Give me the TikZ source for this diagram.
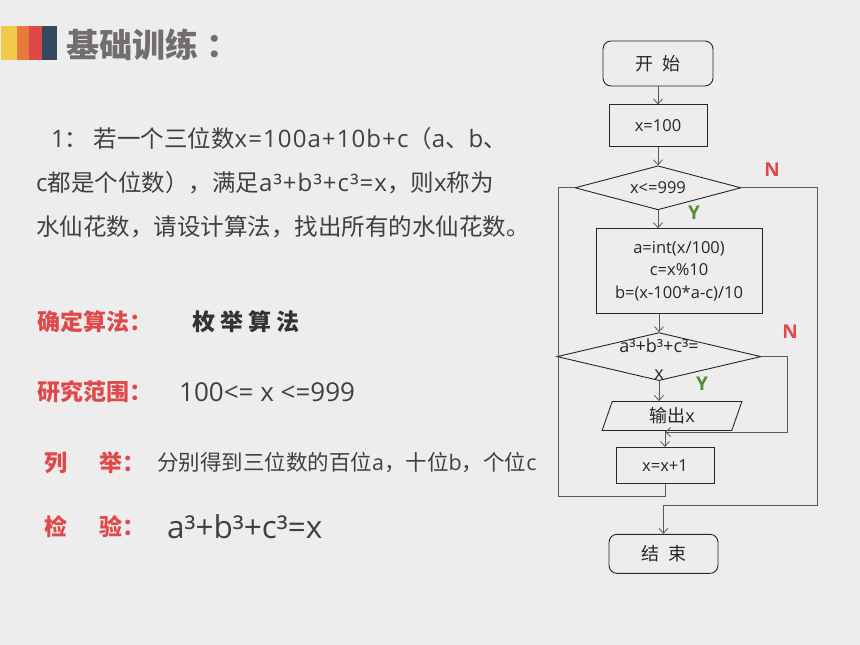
\documentclass[tikz,border=0pt]{standalone}
\usepackage{fontspec}
\setmainfont{Noto Sans CJK SC}
\newfontfamily\latinfont{Open Sans}
\newfontfamily\latinwide{Open Sans}[LetterSpace=4.5]
\usepackage{xcolor}
\usepackage{tikz}
\usetikzlibrary{shapes.geometric, arrows.meta, positioning, calc}

\definecolor{bgray}{RGB}{237,237,237}
\definecolor{titlegray}{RGB}{115,110,110}
\definecolor{txtgray}{RGB}{64,64,64}
\definecolor{hired}{RGB}{224,72,74}
\definecolor{higreen}{RGB}{84,140,50}
\definecolor{baryellow}{RGB}{242,201,76}
\definecolor{barorange}{RGB}{230,122,58}
\definecolor{barred}{RGB}{224,72,72}
\definecolor{barnavy}{RGB}{52,73,94}

\newcommand{\pxfont}[2]{\fontsize{#1pt}{#2pt}\selectfont}
\newcommand{\latn}[1]{{\latinwide\fontsize{24pt}{44pt}\selectfont#1}}

\begin{document}
\begin{tikzpicture}[
    x=1pt, y=-1pt,
    node distance=18pt,
    term/.style={rectangle, rounded corners=8pt, draw=black!85, line width=0.9pt, inner sep=0pt, text=black!85, font=\pxfont{18}{22}},
    proc/.style={rectangle, draw=black!85, line width=0.9pt, inner sep=0pt, align=center, text=black!85, font=\latinfont\pxfont{16.5}{22.5}},
    decision/.style={diamond, aspect=3.8, draw=black!85, line width=0.9pt, inner sep=0pt, text=black!85, font=\latinfont\pxfont{16.5}{20}},
    io/.style={trapezium, trapezium left angle=77, trapezium right angle=103, trapezium stretches=true, draw=black!85, line width=0.9pt, inner sep=0pt, minimum width=140pt, minimum height=29pt, text=black!85, font=\pxfont{18}{22}},
    arrow/.style={-{Straight Barb[length=5pt,width=9pt]}, draw=black!65, line width=0.8pt},
    flowline/.style={draw=black!65, line width=0.8pt},
    yn/.style={font=\latinfont\pxfont{19}{22}\bfseries},
    keyword/.style={anchor=west, inner sep=0pt, text=hired, font=\pxfont{23}{28}\bfseries},
    body/.style={anchor=west, inner sep=0pt, text=txtgray}
]

\fill[bgray] (0,0) rectangle (860,645);
\useasboundingbox (0,0) rectangle (860,645);

% Header: colour bars and title
\fill[baryellow] (1,26) rectangle (17,60);
\fill[barorange] (17,26) rectangle (29,60);
\fill[barred] (29,26) rectangle (42,60);
\fill[barnavy] (42,26) rectangle (57,60);
\node[anchor=west, inner sep=0pt, text=titlegray, font=\pxfont{33}{36}\bfseries] (title) at (66,45) {基础训练\hspace{8pt}：};

% Task text
\node[body, align=left, font=\pxfont{23.5}{44}] (task) at (36,183) {\hspace{15pt}\latn{1}：\ 若一个三位数\latn{x=100a+10b+c}（\latn{a}、\latn{b}、\\\latn{c}都是个位数），满足\latn{a³+b³+c³=x}，则\latn{x}称为\\水仙花数，请设计算法，找出所有的水仙花数。};

% Steps
\node[keyword] (algo) at (37,322) {确定算法：};
\node[body, text=black!80, font=\pxfont{23}{28}\bfseries] (algoval) at (192,322) {枚\hspace{5pt}举\hspace{5pt}算\hspace{5pt}法};
\node[keyword] (range) at (37,392) {研究范围：};
\node[body, font=\latinfont\pxfont{26}{30}] (rangeval) at (179,392) {100<= x <=999};
\node[keyword] (enum) at (44,463) {列\hspace{32pt}举：};
\node[body, font=\pxfont{21.5}{24}] (enumval) at (157,463) {分别得到三位数的百位{\latinfont a}，十位{\latinfont b}，个位{\latinfont c}};
\node[keyword] (check) at (44,527) {检\hspace{32pt}验：};
\node[body, font=\latinfont\pxfont{31.5}{34}] (checkval) at (167,527) {a³+b³+c³=x};

% Flowchart (top to bottom)
\node[term, minimum width=110pt, minimum height=45pt] (start) at (658,63.5) {开\hspace{9pt}始};
\node[proc, minimum width=98pt, minimum height=42pt, below=of start] (init) {x=100};
\node[decision, minimum width=166pt, minimum height=44pt, below=of init] (cond1) {x<=999};
\node[proc, minimum width=166pt, minimum height=85pt, below=of cond1, xshift=21pt] (calc) {a=int(x/100)\\c=x\%10\\b=(x-100*a-c)/10};
\node[decision, minimum width=204pt, minimum height=48pt, below=of calc, xshift=-20pt] (cond2) {};
\node[font=\latinfont\pxfont{18}{20}, align=center, text=black!85, inner sep=0pt] (cond2txt) at ($(cond2)+(0,3)$) {a³+b³+c³=\\[7pt]x};
\node[io, below=20pt of cond2, xshift=13pt] (outp) {输出{\latinfont x}};
\node[proc, minimum width=98pt, minimum height=36pt, below=16pt of outp, xshift=-7pt] (inc) {x=x+1};
\node[term, minimum width=109pt, minimum height=39pt, below=50pt of inc, xshift=-1.5pt] (end) {结\hspace{9pt}束};

% Loop corners
\coordinate (loopL) at (558,496);
\coordinate (exitR) at (817,505);
\coordinate (skipR) at (787,432);

% Main arrows
\draw[arrow] (start.south) -- (init.north);
\draw[arrow] (init.south) -- (cond1.north);
\draw[arrow] (cond1.south) -- (cond1.south |- calc.north);
\draw[arrow] (calc.south -| cond2.north) -- (cond2.north);
\draw[arrow] (cond2.south) -- (cond2.south |- outp.north);
\draw[arrow] (outp.south -| inc.north) -- (inc.north);

% Loops
\draw[flowline] (inc.south) |- (loopL) |- (cond1.west);
\draw[arrow] (cond1.east) -| (exitR) -| (end.north);
\draw[arrow] (cond2.east) -| (skipR) -- (skipR -| inc.north);

% Branch labels
\node[yn, text=hired] (n1) at (772,170) {N};
\node[yn, text=higreen] (y1) at (694,213) {Y};
\node[yn, text=hired] (n2) at (790,332) {N};
\node[yn, text=higreen] (y2) at (702,384) {Y};

\end{tikzpicture}
\end{document}
